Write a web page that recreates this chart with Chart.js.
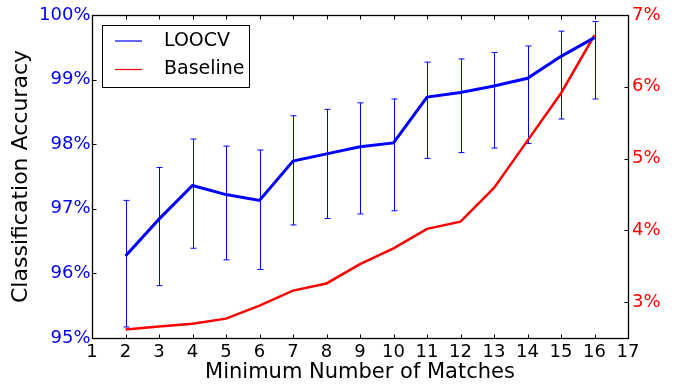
<!DOCTYPE html>
<html>
<head>
<meta charset="utf-8">
<script src="https://cdn.jsdelivr.net/npm/chart.js@4.4.1/dist/chart.umd.min.js"></script>
<style>
  html, body { margin: 0; padding: 0; background: #fff; }
</style>
</head>
<body>
<canvas id="chart" width="675" height="385"></canvas>
<script>
// values
const matches = [2, 3, 4, 5, 6, 7, 8, 9, 10, 11, 12, 13, 14, 15, 16];
const loocv = [96.27, 96.84, 97.36, 97.22, 97.13, 97.74, 97.85, 97.96, 98.02, 98.73, 98.80, 98.90, 99.02, 99.36, 99.65];
const loocvLow = [95.17, 95.81, 96.39, 96.21, 96.06, 96.75, 96.85, 96.92, 96.97, 97.78, 97.87, 97.94, 98.01, 98.39, 98.70];
const loocvHigh = [97.13, 97.64, 98.08, 97.97, 97.91, 98.44, 98.54, 98.64, 98.70, 99.27, 99.32, 99.42, 99.52, 99.75, 99.90];
const baseline = [2.62, 2.66, 2.70, 2.77, 2.95, 3.16, 3.26, 3.53, 3.75, 4.02, 4.12, 4.59, 5.25, 5.91, 6.72];

const xTicks = [1, 2, 3, 4, 5, 6, 7, 8, 9, 10, 11, 12, 13, 14, 15, 16, 17];
const leftTicks = [95, 96, 97, 98, 99, 100];
const rightTicks = [3, 4, 5, 6, 7];

const FONT = "'DejaVu Sans', sans-serif";
const BLUE = "#0000ff";
const RED = "#ff0000";

// error bars, inward ticks, frame and legend in matplotlib style
const mplStyle = {
  id: "mplStyle",
  beforeDatasetsDraw(chart) {
    const { ctx, scales } = chart;
    const x = scales.x, y = scales.y;
    ctx.save();
    ctx.strokeStyle = BLUE;
    ctx.lineWidth = 1;
    matches.forEach((m, i) => {
      const px = Math.round(x.getPixelForValue(m)) + 0.5;
      const lo = y.getPixelForValue(loocvLow[i]);
      const hi = y.getPixelForValue(loocvHigh[i]);
      ctx.beginPath();
      ctx.moveTo(px, lo);
      ctx.lineTo(px, hi);
      ctx.moveTo(px - 3, lo);
      ctx.lineTo(px + 3, lo);
      ctx.moveTo(px - 3, hi);
      ctx.lineTo(px + 3, hi);
      ctx.stroke();
    });
    ctx.restore();
  },
  afterDraw(chart) {
    const { ctx, chartArea: a, scales } = chart;
    ctx.save();
    ctx.strokeStyle = "#000";
    ctx.lineWidth = 1;
    const L = Math.round(a.left) + 0.5, R = Math.round(a.right) + 0.5;
    const T = Math.round(a.top) + 0.5, B = Math.round(a.bottom) + 0.5;
    ctx.beginPath();
    xTicks.forEach((v) => {
      const px = Math.round(scales.x.getPixelForValue(v)) + 0.5;
      ctx.moveTo(px, B); ctx.lineTo(px, B - 4);
      ctx.moveTo(px, T); ctx.lineTo(px, T + 4);
    });
    leftTicks.forEach((v) => {
      const py = Math.round(scales.y.getPixelForValue(v)) + 0.5;
      ctx.moveTo(L, py); ctx.lineTo(L + 4, py);
    });
    rightTicks.forEach((v) => {
      const py = Math.round(scales.y1.getPixelForValue(v)) + 0.5;
      ctx.moveTo(R, py); ctx.lineTo(R - 4, py);
    });
    ctx.stroke();
    ctx.lineWidth = 1.3;
    ctx.strokeRect(L, T, R - L, B - T);

    // legend box
    const lx = 102, ly = 25, lw = 147, lh = 62;
    ctx.fillStyle = "#fff";
    ctx.fillRect(lx, ly, lw, lh);
    ctx.lineWidth = 1;
    ctx.strokeStyle = "#000";
    ctx.strokeRect(lx + 0.5, ly + 0.5, lw, lh);
    ctx.font = "19px " + FONT;
    ctx.textBaseline = "middle";
    chart.data.datasets.forEach((ds, i) => {
      const yy = 41 + i * 28.5;
      ctx.strokeStyle = ds.borderColor;
      ctx.lineWidth = 1.2;
      ctx.beginPath();
      ctx.moveTo(115, yy);
      ctx.lineTo(142, yy);
      ctx.stroke();
      ctx.fillStyle = "#000";
      ctx.fillText(ds.label, 164, yy);
    });
    ctx.restore();
  },
};

new Chart(document.getElementById("chart"), {
  type: "line",
  data: {
    datasets: [
      {
        label: "LOOCV",
        data: matches.map((m, i) => ({ x: m, y: loocv[i] })),
        borderColor: BLUE,
        borderWidth: 3,
        pointRadius: 0,
        tension: 0,
        yAxisID: "y",
      },
      {
        label: "Baseline",
        data: matches.map((m, i) => ({ x: m, y: baseline[i] })),
        borderColor: RED,
        borderWidth: 2.5,
        pointRadius: 0,
        tension: 0,
        yAxisID: "y1",
      },
    ],
  },
  options: {
    responsive: false,
    animation: false,
    events: [],
    layout: { padding: { top: 15, left: 0, right: 0, bottom: 0 } },
    plugins: { legend: { display: false }, tooltip: { enabled: false } },
    scales: {
      x: {
        type: "linear",
        min: 1,
        max: 17,
        afterBuildTicks: (s) => { s.ticks = xTicks.map((v) => ({ value: v })); },
        afterFit: (s) => { s.height = 47; },
        grid: { drawOnChartArea: false, drawTicks: false },
        border: { display: false },
        ticks: { color: "#000", font: { family: FONT, size: 18 }, padding: 4, maxRotation: 0 },
        title: {
          display: true,
          text: "Minimum Number of Matches",
          color: "#000",
          font: { family: FONT, size: 21 },
          padding: { top: 0, bottom: 0 },
        },
      },
      y: {
        position: "left",
        min: 95,
        max: 100,
        afterBuildTicks: (s) => { s.ticks = leftTicks.map((v) => ({ value: v })); },
        afterFit: (s) => { s.width = 92; },
        grid: { drawOnChartArea: false, drawTicks: false },
        border: { display: false },
        ticks: {
          color: BLUE,
          font: { family: FONT, size: 18 },
          padding: 1.5,
          callback: (v) => v + "%",
        },
        title: {
          display: true,
          text: "Classification Accuracy",
          color: "#000",
          font: { family: FONT, size: 22 },
          padding: { top: 8, bottom: 0 },
        },
      },
      y1: {
        position: "right",
        min: 2.5,
        max: 7,
        afterBuildTicks: (s) => { s.ticks = rightTicks.map((v) => ({ value: v })); },
        afterFit: (s) => { s.width = 47; },
        grid: { drawOnChartArea: false, drawTicks: false },
        border: { display: false },
        ticks: {
          color: RED,
          font: { family: FONT, size: 18 },
          padding: 4,
          callback: (v) => v + "%",
        },
      },
    },
  },
  plugins: [mplStyle],
});
</script>
</body>
</html>
